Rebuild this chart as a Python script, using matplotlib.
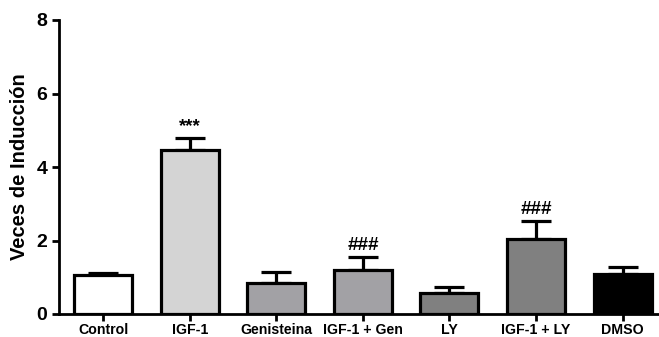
import matplotlib
matplotlib.use("Agg")
from matplotlib import pyplot as plt
import numpy as np

plt.rcParams['font.family'] = ['Liberation Sans', 'DejaVu Sans']
plt.rcParams['font.weight'] = 'bold'

categories = ["Control", "IGF-1", "Genisteina", "IGF-1 + Gen", "LY", "IGF-1 + LY", "DMSO"]
means = [1.05, 4.47, 0.83, 1.19, 0.56, 2.04, 1.08]
sems = [0.07, 0.32, 0.30, 0.37, 0.18, 0.49, 0.21]
colors = ["#ffffff", "#d4d4d4", "#a2a1a5", "#a2a1a5", "#808080", "#808080", "#000000"]
marks = ["", "***", "", "###", "", "###", ""]

fig = plt.figure(figsize=(6.59, 3.37), dpi=100)
ax = fig.add_axes([59/659, 1 - 314/337, 1 - 59/659, (314 - 20)/337])

x = np.arange(len(categories))
ax.bar(x, means, width=0.67, color=colors, edgecolor="black", linewidth=2.3, zorder=3)
ax.errorbar(x, means, yerr=[np.zeros(len(means)), sems], fmt="none", ecolor="black",
            elinewidth=2.3, capsize=10.5, capthick=2.3, zorder=2)

for i in range(len(categories)):
    if marks[i]:
        ax.text(x[i], means[i] + sems[i] + 0.08, marks[i], ha="center", va="bottom",
                fontsize=13.5, fontweight="bold")

ax.set_xlim(-0.51, 6.42)
ax.set_ylim(0, 8)
ax.set_yticks([0, 2, 4, 6, 8])
ax.set_xticks(x)
ax.set_xticklabels(categories, fontsize=10.2, fontweight="bold")
ax.tick_params(axis="y", labelsize=14, width=2, length=5)
ax.tick_params(axis="x", width=2, length=5, pad=1.5)
for t in ax.get_yticklabels():
    t.set_fontweight("bold")
ax.set_ylabel("Veces de Inducción", fontsize=14.5, fontweight="bold", labelpad=5)

ax.spines["top"].set_visible(False)
ax.spines["right"].set_visible(False)
ax.spines["left"].set_linewidth(2)
ax.spines["bottom"].set_linewidth(2)

plt.savefig("out.png", dpi=100)
